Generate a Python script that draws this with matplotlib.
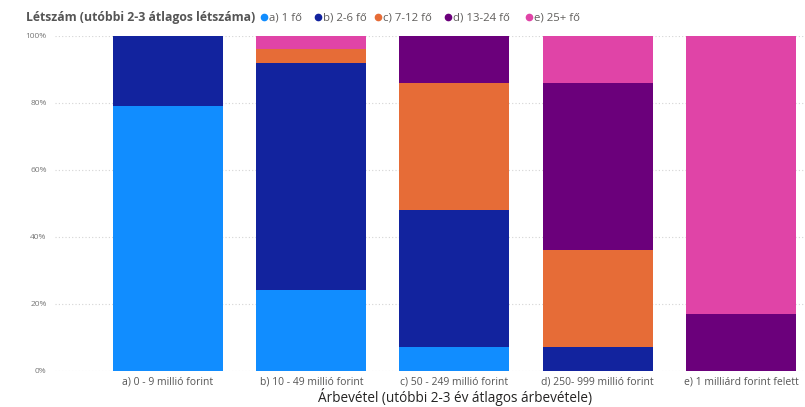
import numpy as np
from matplotlib import pyplot as plt
from matplotlib.ticker import PercentFormatter

# Árbevétel kategóriák és létszám megoszlás (%)
kategoriak = ["a) 0 - 9 millió forint", "b) 10 - 49 millió forint", "c) 50 - 249 millió forint",
              "d) 250- 999 millió forint", "e) 1 milliárd forint felett"]
sorozatok = ["a) 1 fő", "b) 2-6 fő", "c) 7-12 fő", "d) 13-24 fő", "e) 25+ fő"]
szinek = ["#118DFF", "#12239E", "#E66C37", "#6B007B", "#E044A7"]

fo_1 = [79, 24, 7, 0, 0]
fo_2_6 = [21, 68, 41, 7, 0]
fo_7_12 = [0, 4, 38, 29, 0]
fo_13_24 = [0, 0, 14, 50, 17]
fo_25 = [0, 4, 0, 14, 83]

adatok = [fo_1, fo_2_6, fo_7_12, fo_13_24, fo_25]

plt.rcParams['font.family'] = ['Open Sans', 'DejaVu Sans']

fig = plt.figure(figsize=(8.05, 4.07), dpi=100)
ax = fig.add_axes([55 / 805, 1 - 370.7 / 407, 750 / 805, 335 / 407])

x = np.arange(len(kategoriak))
alap = np.zeros(len(kategoriak))
for ertekek, szin in zip(adatok, szinek):
    ertekek = np.array(ertekek, dtype=float)
    ax.bar(x, ertekek, bottom=alap, width=0.768, color=szin, zorder=2)
    alap += ertekek

ax.set_xlim(-0.789, 4.447)
ax.set_ylim(0, 100)
ax.set_yticks([0, 20, 40, 60, 80, 100])
ax.yaxis.set_major_formatter(PercentFormatter(decimals=0))
ax.set_xticks(x)
ax.set_xticklabels(kategoriak)
ax.tick_params(axis='y', length=0, labelsize=6, labelcolor="#777777", pad=6)
ax.tick_params(axis='x', length=0, labelsize=7.5, labelcolor="#555555", pad=4)
ax.grid(axis='y', color="#d4d4d4", linestyle=(0, (1, 2)), linewidth=0.8, zorder=0)
for s in ax.spines.values():
    s.set_visible(False)

fig.text(455 / 805, 1 - 397 / 407, "Árbevétel (utóbbi 2-3 év átlagos árbevétele)",
         ha='center', va='center', fontsize=9.8, color="#252423")

# jelmagyarázat a diagram fölött
y_leg = 1 - 18 / 407
fig.text(26 / 805, y_leg, "Létszám (utóbbi 2-3 átlagos létszáma)", ha='left', va='center',
         fontsize=8.8, fontweight='bold', color="#555555")
leg_x = [264, 318, 378, 448, 529]
for px, nev, szin in zip(leg_x, sorozatok, szinek):
    fig.add_artist(plt.Line2D([px / 805], [y_leg + 0.002], marker='o', markersize=4.5,
                              color=szin, linestyle='none', transform=fig.transFigure))
    fig.text((px + 5) / 805, y_leg, nev, ha='left', va='center', fontsize=8.2, color="#605E5C")

fig.savefig("out.png", dpi=100)
